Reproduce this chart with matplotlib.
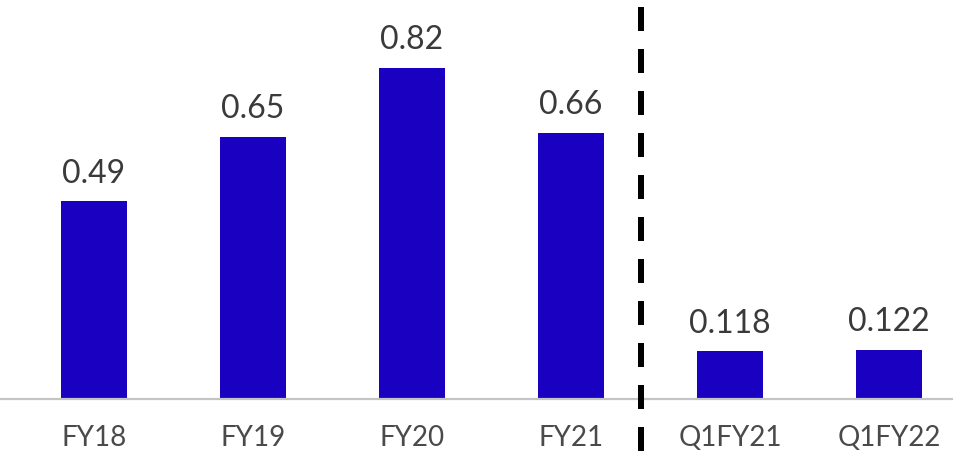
import matplotlib
matplotlib.use("Agg")
import matplotlib.pyplot as plt
from matplotlib.lines import Line2D

categories = ["FY18", "FY19", "FY20", "FY21", "Q1FY21", "Q1FY22"]
values = [0.49, 0.65, 0.82, 0.66, 0.118, 0.122]
labels = ["0.49", "0.65", "0.82", "0.66", "0.118", "0.122"]
tick_labels = ["FY18", "FY19", "FY20", "FY21", "Q1FY21", "Q1FY22"]

W, H = 954, 453
fig = plt.figure(figsize=(W / 100, H / 100), dpi=100)
plt.rcParams['font.family'] = ['Lato', 'DejaVu Sans']

ax = fig.add_axes([0, 1 - 399 / H, 1, 399 / H])
x = list(range(len(categories)))
ax.bar(x, values, width=0.415, color="#1A00C0", zorder=2)
ax.set_xlim(-94 / 159, (954 - 94) / 159)
ax.set_ylim(0, 399 / 403.7)
for s in ["top", "right", "left"]:
    ax.spines[s].set_visible(False)
ax.spines["bottom"].set_color("#c4c4c4")
ax.spines["bottom"].set_linewidth(1.6)
ax.set_yticks([])
ax.set_xticks(x)
ax.set_xticklabels(tick_labels, fontsize=20, color="#4a4a4a")
ax.tick_params(axis="x", length=0, pad=19)

for xi, v, lab in zip(x, values, labels):
    ax.annotate(lab, (xi, v), xytext=(0, 9), textcoords="offset points",
                ha="center", va="bottom", fontsize=23, color="#3a3a3a")

# dashed separator
xs = 640.7 / W
fig.add_artist(Line2D([xs, xs], [1 - 7 / H, 0], transform=fig.transFigure,
                      color="black", lw=4.32, dashes=(4, 3),
                      solid_capstyle="butt", dash_capstyle="butt", zorder=5))

fig.savefig("out.png", dpi=100)
